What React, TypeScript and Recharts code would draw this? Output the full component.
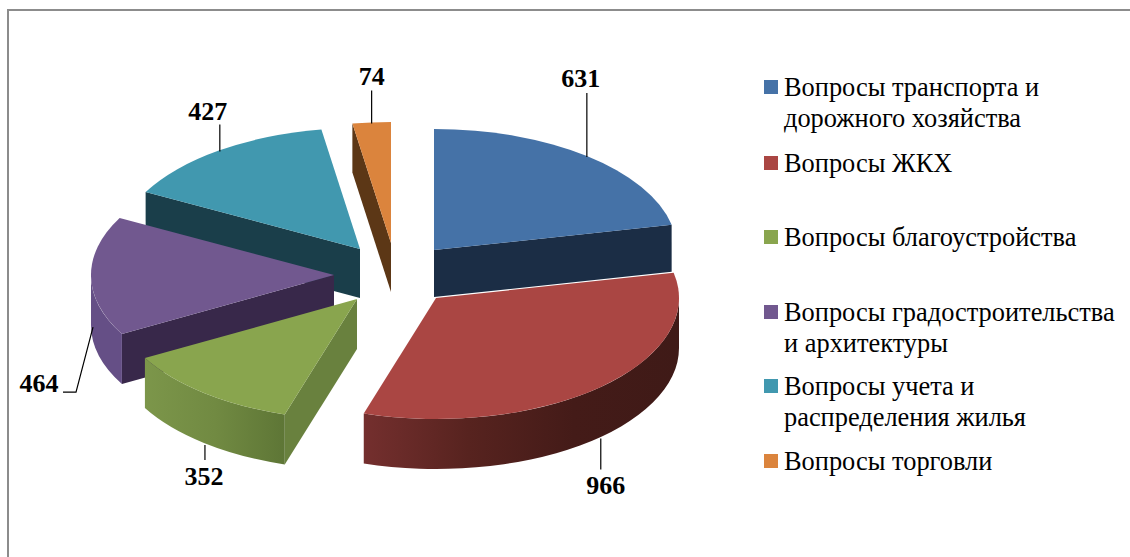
import React from "react";
import { PieChart, Pie, Legend } from "recharts";

const categories = [
  "Вопросы транспорта и\nдорожного хозяйства",
  "Вопросы ЖКХ",
  "Вопросы благоустройства",
  "Вопросы градостроительства\nи архитектуры",
  "Вопросы учета и\nраспределения жилья",
  "Вопросы торговли",
];
const values = [631, 966, 352, 464, 427, 74];
const colors = ["#4572A7", "#AA4643", "#89A54E", "#71588F", "#4198AF", "#DB843D"];
const wallColors = ["#1B2D45", "#441B1A", "#69813E", "#38284A", "#1A3E4A", "#5C3716"];
const outerStops: string[][] = [
  ["#1B2D45"],
  ["#742F2E", "#57231F", "#441B18", "#3F1A17"],
  ["#7C964A", "#718A42", "#5E7636"],
  ["#654F86"],
  ["#1A3E4A"],
  ["#5C3716"],
];

// Exploded offset of every slice from the pie centre.
const PIE_CX = 390;
const PIE_CY = 272;
const RX = 243;
const RY = 121;
const depths = [47, 50, 50, 50, 49, 49];
const explode: [number, number][] = [
  [44, -22],
  [46, 26],
  [-33, 27],
  [-56, 3],
  [-30, -23],
  [1, -29],
];
const legendTops = [72, 148, 222, 297, 371, 446];
const labelLayouts: { leader: [number, number][]; text: [number, number] }[] = [
  { leader: [[0, 1], [0, -63]], text: [-6, -69] },
  { leader: [[1, 1], [1, 32]], text: [6, 57] },
  { leader: [[1, 2], [1, 17]], text: [0, 42] },
  { leader: [[2, 1], [-15, 66], [-28, 66]], text: [-52, 66] },
  { leader: [[1, 1], [1, -26]], text: [-11, -31] },
  { leader: [[0, 1], [0, -32]], text: [0, -37] },
];

// Reversed so that the front slices paint over the back ones; the angle range runs the other way.
const rows = categories
  .map((name, i) => ({ name, value: values[i], fill: colors[i], idx: i }))
  .reverse();

const rad = (d: number) => (d * Math.PI) / 180;

function Slice(props: any) {
  const { startAngle, endAngle, idx, fill } = props;
  let t1 = (((90 - endAngle) % 360) + 360) % 360;
  if (t1 > 359.99) t1 = 0;
  const t2 = t1 + (endAngle - startAngle);
  const cx = props.cx + explode[idx][0];
  const cy = props.cy + explode[idx][1];
  const rx = props.outerRadius;
  const ry = (rx * RY) / RX;
  const DEPTH = depths[idx];
  const p = (t: number): [number, number] => [
    cx + rx * Math.sin(rad(t)),
    cy - ry * Math.cos(rad(t)),
  ];
  const wall = (t: number) => {
    const a = p(t);
    return `M${cx},${cy} L${a[0]},${a[1]} L${a[0]},${a[1] + DEPTH} L${cx},${cy + DEPTH} Z`;
  };
  const large = t2 - t1 > 180 ? 1 : 0;
  const [ax, ay] = p(t1);
  const [bx, by] = p(t2);
  const top = `M${cx},${cy} L${ax},${ay} A${rx},${ry} 0 ${large} 1 ${bx},${by} Z`;
  const oa = Math.max(t1, 90);
  const ob = Math.min(t2, 270);
  let outer = "";
  if (oa < ob) {
    const s = p(oa);
    const e = p(ob);
    outer = `M${s[0]},${s[1]} A${rx},${ry} 0 0 1 ${e[0]},${e[1]} L${e[0]},${e[1] + DEPTH} A${rx},${ry} 0 0 0 ${s[0]},${s[1] + DEPTH} Z`;
  }
  const gid = `outer-${idx}`;
  const stops = outerStops[idx];
  const outerFill = stops.length === 1 ? stops[0] : `url(#${gid})`;
  return (
    <g>
      {stops.length > 1 && (
        <defs>
          <linearGradient id={gid} x1="0" y1="0" x2="1" y2="0">
            {stops.map((c, i) => (
              <stop key={i} offset={i / (stops.length - 1)} stopColor={c} />
            ))}
          </linearGradient>
        </defs>
      )}
      {Math.sin(rad(t1)) < 0 && <path d={wall(t1)} fill={wallColors[idx]} />}
      {Math.sin(rad(t2)) > 0 && <path d={wall(t2)} fill={wallColors[idx]} />}
      {outer && <path d={outer} fill={outerFill} />}
      <path d={top} fill={fill} />
    </g>
  );
}

function SliceLabel(props: any) {
  const { midAngle, value, name } = props;
  const idx = categories.indexOf(name);
  const t = 90 - midAngle;
  const cx = props.cx + explode[idx][0];
  const cy = props.cy + explode[idx][1];
  const rx = props.outerRadius;
  const ry = (rx * RY) / RX;
  const front = Math.cos(rad(t)) < 0 ? depths[idx] : 0;
  const ax = cx + rx * Math.sin(rad(t));
  const ay = cy - ry * Math.cos(rad(t)) + front;
  const lay = labelLayouts[idx];
  return (
    <g>
      <polyline
        points={lay.leader.map(([dx, dy]) => `${ax + dx},${ay + dy}`).join(" ")}
        fill="none"
        stroke="#000"
        strokeWidth={1.2}
      />
      <text
        x={ax + lay.text[0]}
        y={ay + lay.text[1]}
        textAnchor="middle"
        fontFamily="'Liberation Serif'"
        fontWeight="bold"
        fontSize={26}
        fill="#000"
      >
        {value}
      </text>
    </g>
  );
}

function LegendBox(props: any) {
  const items = [...(props.payload || [])].sort(
    (a: any, b: any) => categories.indexOf(a.value) - categories.indexOf(b.value),
  );
  return (
    <div style={{ position: "relative", width: 1130, height: 557 }}>
      {items.map((it: any, i: number) => (
        <div key={i} style={{ position: "absolute", left: 0, top: legendTops[i] }}>
          <span
            style={{
              position: "absolute",
              left: 764,
              top: 8,
              width: 14,
              height: 14,
              background: it.color,
            }}
          />
          <span
            style={{
              position: "absolute",
              left: 784,
              top: 0,
              whiteSpace: "pre",
              fontFamily: "'Liberation Serif'",
              fontSize: 26.4,
              lineHeight: "31px",
              color: "#000",
            }}
          >
            {it.value}
          </span>
        </div>
      ))}
    </div>
  );
}

export default function App() {
  return (
    <div
      style={{
        position: "fixed",
        left: 0,
        top: 0,
        width: 1130,
        height: 557,
        overflow: "hidden",
        background: "#fff",
      }}
    >
      <div style={{ position: "absolute", left: 7, top: 9, right: 0, height: 2, background: "#8C8C8C" }} />
      <div style={{ position: "absolute", left: 7, top: 9, bottom: 0, width: 2, background: "#8C8C8C" }} />
      <PieChart width={1130} height={557} margin={{ top: 0, right: 0, bottom: 0, left: 0 }}>
        <Pie
          data={rows}
          dataKey="value"
          nameKey="name"
          cx={PIE_CX}
          cy={PIE_CY}
          outerRadius={RX}
          innerRadius={0}
          startAngle={90}
          endAngle={450}
          stroke="none"
          isAnimationActive={false}
          shape={Slice}
          label={SliceLabel}
          labelLine={false}
        />
        <Legend
          content={LegendBox}
          wrapperStyle={{ position: "absolute", left: 0, top: 0, width: 1130, height: 557, pointerEvents: "none" }}
        />
      </PieChart>
    </div>
  );
}
